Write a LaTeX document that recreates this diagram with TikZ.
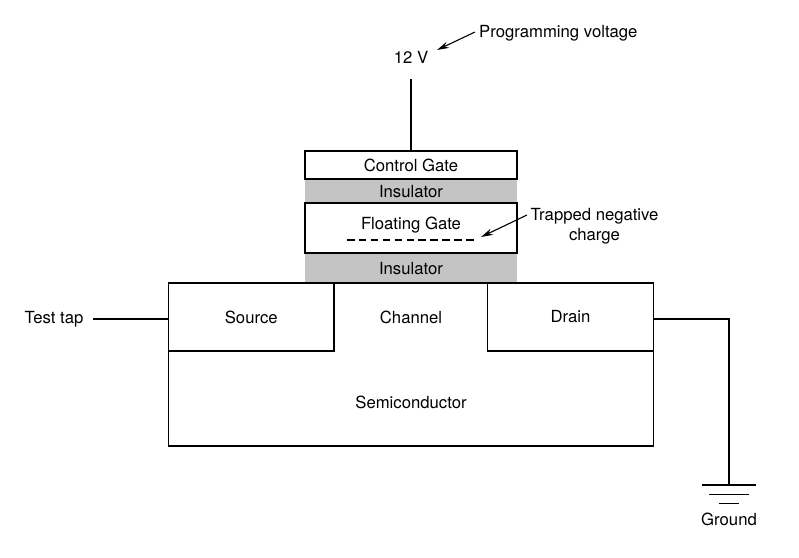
\documentclass[tikz,border=0pt]{standalone}
\usepackage{fontspec}
\usetikzlibrary{arrows.meta}
\setmainfont{TeX Gyre Heros}
\definecolor{insgray}{HTML}{C4C4C4}
\begin{document}
\begin{tikzpicture}[
            x=1pt, y=-1pt,
            every node/.style={font=\fontsize{16.7}{20}\selectfont},
            box/.style={rectangle, draw, line width=1.3pt, inner sep=0pt},
            insulator/.style={rectangle, fill=insgray, inner sep=0pt, minimum width=212pt},
            txt/.style={inner sep=0pt, text height=12pt, text depth=3.5pt},
            wire/.style={line width=1.3pt},
            arrow/.style={-{Stealth[length=12pt,width=6.5pt]}, line width=1.1pt}
        ]
            \useasboundingbox (0,0) rectangle (799,557);

            \node[insulator, minimum height=25pt] (ins1) at (411,191.5) {Insulator};
            \node[insulator, minimum height=31pt] (ins2) at (411,268.5) {Insulator};

            \node[box, minimum width=212pt, minimum height=28pt] (control) at (411,165) {Control Gate};
            \node[box, minimum width=212pt, minimum height=50pt] (floating) at (411,228) {};
            \node[txt] (floatlabel) at (411,225) {Floating Gate};
            \node[box, minimum width=485pt, minimum height=163pt] (semi) at (411,364.5) {};
            \node[txt] (semilabel) at (411,404) {Semiconductor};
            \node[box, minimum width=165.5pt, minimum height=68pt] (source) at (251.25,317) {Source};
            \node[box, minimum width=166pt, minimum height=68pt] (drain) at (570.5,317) {Drain};
            \node[txt] (channel) at (411,319) {Channel};

            \node[txt] (volt) at (411,59) {12 V};
            \node[txt, anchor=west] (prog) at (479,33) {Programming voltage};
            \node[align=center, inner sep=0pt] (trapped) at (594.5,226.5) {Trapped negative\\charge};
            \node[txt] (tap) at (54,319.5) {Test tap};
            \node[txt] (ground) at (729,521) {Ground};

            \coordinate (voltend) at (411,79);
            \coordinate (voltstart) at (475,32);
            \coordinate (voltarrow) at (437,50);
            \coordinate (trapstart) at (527,215);
            \coordinate (traparrow) at (481,237);
            \coordinate (dashleft) at (347,240);
            \coordinate (dashright) at (474,240);
            \coordinate (tapstart) at (93,319);
            \coordinate (draintap) at (653,319);
            \coordinate (gnd1) at (729,485);
            \coordinate (gnd2) at (729,494.5);
            \coordinate (gnd3) at (729,503.5);

            \draw[wire] (voltend) -- (control.north -| voltend);
            \draw[arrow] (voltstart) -- (voltarrow);
            \draw[arrow] (trapstart) -- (traparrow);
            \draw[line width=1.1pt, dash pattern=on 7.5pt off 4.4pt] (dashleft) -- (dashright);
            \draw[wire] (tapstart) -- (tapstart -| source.west);
            \draw[wire] (draintap) -| (gnd1);
            \draw[wire] ([xshift=-27pt]gnd1) -- ([xshift=27pt]gnd1);
            \draw[line width=1.6pt] ([xshift=-20pt]gnd2) -- ([xshift=20pt]gnd2);
            \draw[wire] ([xshift=-10pt]gnd3) -- ([xshift=10pt]gnd3);
        \end{tikzpicture}
\end{document}
